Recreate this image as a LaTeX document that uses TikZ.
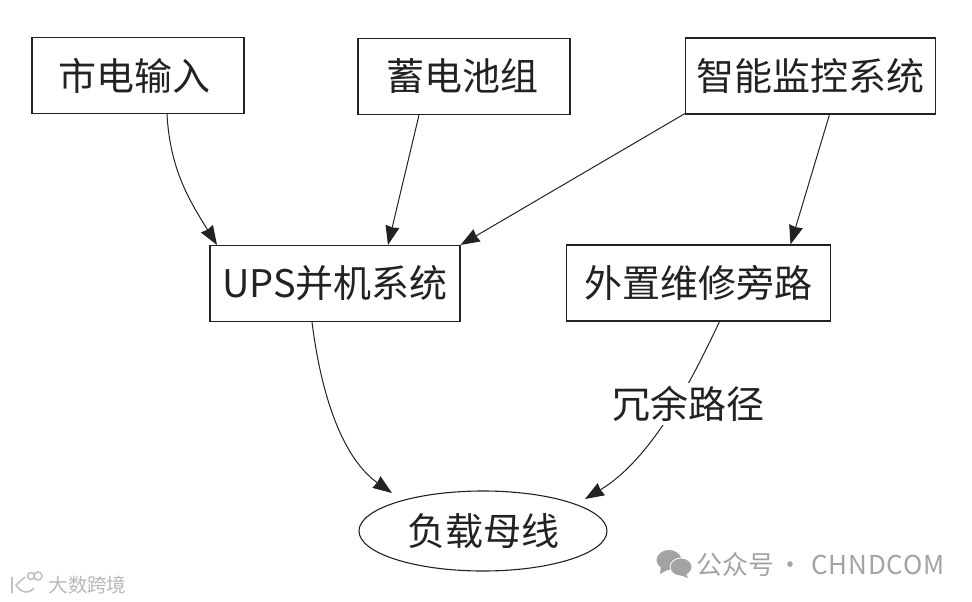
\documentclass[tikz,border=0pt]{standalone}
\usepackage{fontspec}
\setmainfont{Noto Sans CJK SC}
\usetikzlibrary{arrows.meta,shapes.geometric}
\definecolor{ink}{HTML}{222222}
\tikzset{
 px/.style={x=1pt,y=-1pt},
 boxn/.style={draw=ink,line width=1.1pt,minimum height=76pt,font=\fontsize{38}{38}\selectfont,text=ink,inner sep=0pt,fill=white},
 conn/.style={draw=ink,line width=1pt,-{Stealth[length=19pt,width=14pt,inset=1pt]}},
 lab/.style={font=\fontsize{38}{38}\selectfont,text=ink,fill=white,inner sep=3pt},
 wm/.style={text=black!36,inner sep=0pt},
 wmicon/.style={fill=black!36,draw=white,line width=0.8pt}
}
\begin{document}
\begin{tikzpicture}[px]
\useasboundingbox (0,0) rectangle (972,602);
\node[boxn,minimum width=212pt] (a) at (138,75.5) {\kern-8pt 市电输入};
\node[boxn,minimum width=212pt] (b) at (464,76.5) {\kern-4pt 蓄电池组};
\node[boxn,minimum width=250pt] (c) at (810.5,76) {智能监控系统};
\node[boxn,minimum width=250pt] (d) at (335,283.5) {UPS并机系统};
\node[boxn,minimum width=264pt] (e) at (698.5,283) {外置维修旁路};
\node[draw=ink,line width=1.1pt,ellipse,minimum width=248pt,minimum height=80pt,font=\fontsize{38}{38}\selectfont,text=ink,inner sep=0pt] (f) at (483,531) {负载母线};
\draw[conn] ([xshift=29pt]a.south) .. controls +(3,55) and +(-28,-45) .. ([xshift=-118pt]d.north);
\draw[conn] ([xshift=-45pt]b.south) -- ([xshift=53pt]d.north);
\draw[conn] ([yshift=1pt]c.south west) -- (d.north east);
\draw[conn] ([xshift=19pt]c.south) -- ([xshift=92pt]e.north);
\draw[conn] ([xshift=-23pt]d.south) .. controls +(10,80) and +(-47,-33) .. ([shift={(-91pt,38pt)}]f.center);
\draw[conn] ([xshift=21pt]e.south) .. controls +(-30,64) and +(65,-39) .. ([shift={(102pt,32pt)}]f.center);
\node[lab] (l) at (688,404) {冗余路径};
% WeChat icon
\fill[wmicon] (669,560) ellipse (13pt and 10.5pt);
\fill[wmicon,draw=none] (661,566) -- (660,574) -- (669,569) -- cycle;
\fill[wmicon] (681,567) ellipse (11pt and 9pt);
\fill[wmicon,draw=none] (686,573) -- (688,578) -- (680,575) -- cycle;
\node[wm,font=\fontsize{26}{26}\selectfont] (w1) at (820.5,564.5) {公众号\kern3pt·\kern8pt{\addfontfeature{LetterSpace=3}CHNDCOM}};
% lower-left mark
\begin{scope}[draw=black!24,line width=1.6pt]
\draw (12,577) -- (12,593);
\draw (25,577) -- (16,585) .. controls (20,592) and (28,595) .. (34,588);
\draw (31,576) circle (3.5pt);
\draw (38,576) circle (4pt);
\end{scope}
\node[inner sep=0pt,text=black!28,font=\fontsize{19.5}{20}\selectfont] (w2) at (87.5,585) {大数跨境};
\end{tikzpicture}
\end{document}
